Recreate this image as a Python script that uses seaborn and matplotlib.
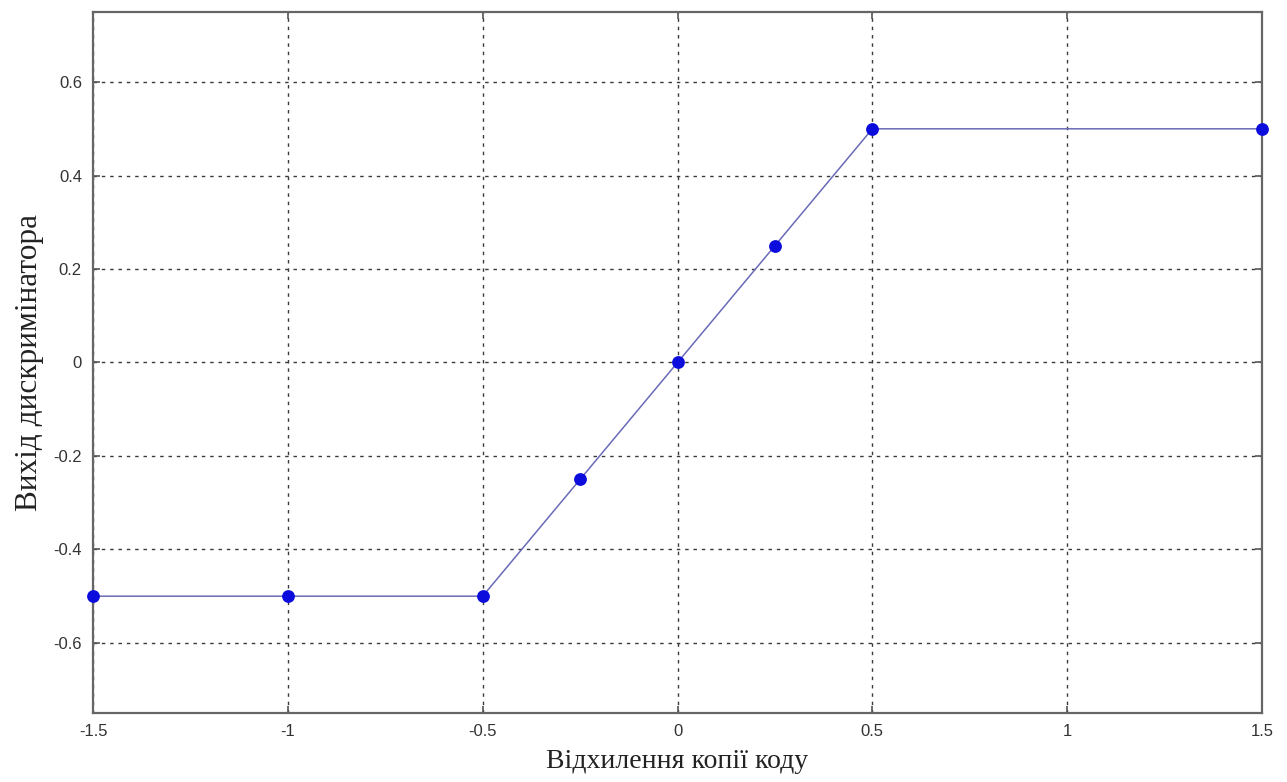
import matplotlib
matplotlib.use("Agg")
import matplotlib.pyplot as plt
import seaborn as sns
import pandas as pd

# Discriminator characteristic: code copy offset vs discriminator output
offset = [-1.5, -1.0, -0.5, -0.25, 0.0, 0.25, 0.5, 1.5]
output = [-0.5, -0.5, -0.5, -0.25, 0.0, 0.25, 0.5, 0.5]
x_ticks = [-1.5, -1, -0.5, 0, 0.5, 1, 1.5]
y_ticks = [-0.6, -0.4, -0.2, 0, 0.2, 0.4, 0.6]
x_label = "Відхилення копії коду"
y_label = "Вихід дискримінатора"

sns.set_theme(style="white")
plt.rcParams["font.family"] = ["Liberation Sans", "DejaVu Sans"]

df = pd.DataFrame({"offset": offset, "output": output})

fig = plt.figure(figsize=(12.87, 7.82), dpi=100)
ax = fig.add_axes([0.0723, 0.0882, 0.9083, 0.8965])

sns.lineplot(data=df, x="offset", y="output", ax=ax, color="#6a6ab8",
             linewidth=1.1, sort=False, zorder=3)
sns.scatterplot(data=df, x="offset", y="output", ax=ax, color="#0c0cdc",
                s=85, edgecolor="#0c0cdc", linewidth=0, zorder=4, clip_on=False)

ax.set_xlim(-1.5, 1.5)
ax.set_ylim(-0.75, 0.75)
ax.set_xticks(x_ticks)
ax.set_yticks(y_ticks)
ax.set_xticklabels([f"{t:g}" for t in x_ticks])
ax.set_yticklabels([f"{t:g}" for t in y_ticks])

ax.grid(True, color="#3a3a3a", linestyle=(0, (2.5, 3.5)), linewidth=1.0, zorder=1)
ax.set_axisbelow(True)

for side in ax.spines.values():
    side.set_color("#666666")
    side.set_linewidth(1.6)

ax.tick_params(axis="both", which="both", labelsize=12, colors="#555555",
               direction="in", length=5, width=1.2, pad=8)
ax.tick_params(axis="both", labelcolor="#333333")
ax.xaxis.set_ticks_position("both")
ax.yaxis.set_ticks_position("both")

ax.set_xlabel(x_label, family=["Liberation Serif", "DejaVu Serif"],
              fontsize=20, color="#222222", labelpad=7)
ax.set_ylabel(y_label, family=["Liberation Serif", "DejaVu Serif"],
              fontsize=22.5, color="#222222", labelpad=7)

fig.savefig("out.png", dpi=100, facecolor="white")
